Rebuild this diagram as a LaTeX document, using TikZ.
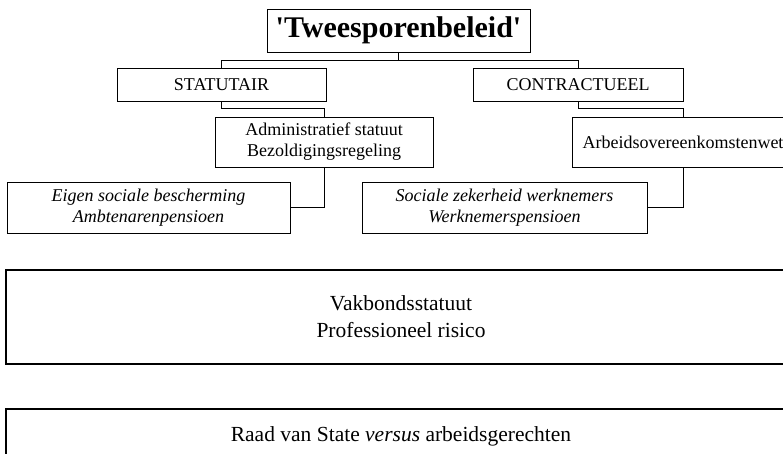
\documentclass[tikz,border=0pt]{standalone}
\usepackage{fontspec}
\setmainfont{Liberation Serif}
\usetikzlibrary{positioning}

\begin{document}
\begin{tikzpicture}[x=1pt, y=-1pt,
    box/.style={draw, rectangle, inner sep=0pt, line width=0.8pt, align=center, font=\fontsize{18}{21}\selectfont},
    wide/.style={box, line width=1.4pt, minimum width=790pt, font=\fontsize{21.5}{27}\selectfont},
    link/.style={line width=0.8pt}]
    \useasboundingbox (0,0) rectangle (783,453);

    \node [box, minimum width=263pt, minimum height=43pt, font=\fontsize{30}{30}\selectfont\bfseries] (title) at (398.5,30.5) {\textquotesingle Tweesporenbeleid\textquotesingle};

    \node [box, minimum width=209pt, minimum height=33pt] (statutair) at (221.5,84.5) {STATUTAIR};
    \node [box, minimum width=210pt, minimum height=33pt] (contract) at (578,84.5) {CONTRACTUEEL};

    \node [box, minimum width=218pt, minimum height=50pt] (admin) at (324,142) {Administratief statuut\\Bezoldigingsregeling};
    \node [box, minimum width=222pt, minimum height=50pt] (arbeid) at (683,142) {Arbeidsovereenkomstenwet};

    \node [box, minimum width=283pt, minimum height=51pt, font=\fontsize{18}{21}\selectfont\itshape] (eigen) at (148.5,207.5) {Eigen sociale bescherming\\Ambtenarenpensioen};
    \node [box, minimum width=285pt, minimum height=51pt, font=\fontsize{18}{21}\selectfont\itshape] (sociale) at (504.5,207.5) {Sociale zekerheid werknemers\\Werknemerspensioen};

    \node [wide, minimum height=94pt] (vakbond) at (401,317) {Vakbondsstatuut\\Professioneel risico};
    \node [wide, minimum height=54pt] (raad) at (401,436) {Raad van State \textit{versus} arbeidsgerechten};

    % the two tracks
    \draw [link] (title.south) -- ++(0,8) -| (statutair.north);
    \draw [link] (title.south) -- ++(0,8) -| (contract.north);
    \draw [link] (statutair.south) -- ++(0,7) -| (admin.north);
    \draw [link] (contract.south) -- ++(0,7) -| (arbeid.north);
    \draw [link] (admin.south) |- (eigen.east);
    \draw [link] (arbeid.south) |- (sociale.east);
\end{tikzpicture}
\end{document}
